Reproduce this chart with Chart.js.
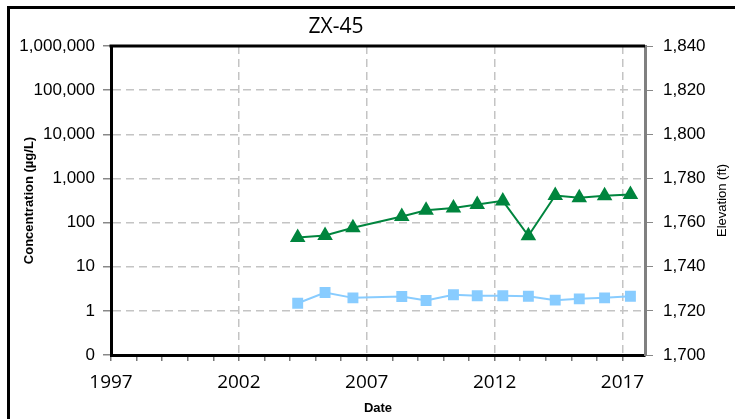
<!DOCTYPE html>
<html>
<head>
<meta charset="utf-8">
<script src="https://cdn.jsdelivr.net/npm/chart.js@4"></script>
<style>
  html, body { margin: 0; padding: 0; background: #fff; }
  #wrap { position: relative; width: 735px; height: 419px; overflow: hidden; }
  #frame { position: absolute; left: 7px; top: 6px; width: 800px; height: 500px;
           border-left: 3px solid #000; border-top: 3px solid #000; pointer-events: none; }
</style>
</head>
<body>
<div id="wrap">
  <canvas id="chart" width="735" height="419"></canvas>
  <div id="frame"></div>
</div>
<script>
// sample dates as decimal years
const sampleYears = [2004.30, 2005.37, 2006.46, 2008.37, 2009.32, 2010.39, 2011.32,
                     2012.32, 2013.32, 2014.37, 2015.31, 2016.30, 2017.31];
// concentration (ug/L)
const greenValues = [46, 51, 76, 137, 191, 215, 256, 310, 50, 411, 364, 403, 433];
const blueValues = [1.49, 2.61, 1.97, 2.12, 1.72, 2.31, 2.19, 2.19, 2.15, 1.75, 1.87, 1.97, 2.15];

const xTickYears = [];
for (let y = 1997; y <= 2017; y++) xTickYears.push(y);
const xLabelYears = [1997, 2002, 2007, 2012, 2017];
const yTickValues = [0.1, 1, 10, 100, 1000, 10000, 100000, 1000000];
const elevationTicks = [1700, 1720, 1740, 1760, 1780, 1800, 1820, 1840];

const chartTitle = 'ZX-45';
const leftTitle = 'Concentration (µg/L)';
const rightTitle = 'Elevation (ft)';
const xTitle = 'Date';

Chart.defaults.font.family = "'Liberation Sans', Arial, sans-serif";
Chart.defaults.color = '#000';

const gridGray = '#c4c4c4';

const extras = {
  id: 'extras',
  beforeDatasetsDraw(chart) {
    const { ctx, chartArea } = chart;
    ctx.save();
    ctx.strokeStyle = '#000';
    ctx.lineWidth = 3;
    ctx.beginPath();
    ctx.moveTo(chartArea.left - 1.5, chartArea.top);
    ctx.lineTo(chartArea.right, chartArea.top);
    ctx.stroke();
    ctx.restore();
  },
  afterDraw(chart) {
    const { ctx, chartArea } = chart;
    ctx.save();
    ctx.fillStyle = '#000';
    ctx.textAlign = 'center';
    ctx.textBaseline = 'middle';
    ctx.font = "21px 'Open Sans', sans-serif";
    ctx.fillText(chartTitle, 336, 27);
    ctx.font = "13px 'Liberation Sans', Arial, sans-serif";
    ctx.translate(chart.scales.y2.right - 13, (chartArea.top + chartArea.bottom) / 2);
    ctx.rotate(-Math.PI / 2);
    ctx.fillText(rightTitle, 0, 0);
    ctx.restore();
  }
};

new Chart(document.getElementById('chart'), {
  type: 'line',
  data: {
    datasets: [
      {
        label: 'Series 1',
        data: sampleYears.map((x, i) => ({ x, y: greenValues[i] })),
        borderColor: '#00853e',
        backgroundColor: '#00853e',
        borderWidth: 2,
        pointStyle: 'triangle',
        pointRadius: 7,
        pointHoverRadius: 7,
        yAxisID: 'y'
      },
      {
        label: 'Series 2',
        data: sampleYears.map((x, i) => ({ x, y: blueValues[i] })),
        borderColor: '#88ccff',
        backgroundColor: '#88ccff',
        borderWidth: 2,
        pointStyle: 'rect',
        pointRadius: 6.3,
        pointHoverRadius: 6.3,
        yAxisID: 'y'
      }
    ]
  },
  options: {
    responsive: false,
    animation: false,
    layout: { padding: { top: 46, left: 0, right: 0, bottom: 0 } },
    plugins: {
      legend: { display: false },
      tooltip: { enabled: false }
    },
    scales: {
      x: {
        type: 'linear',
        min: 1997,
        max: 2017.88,
        afterBuildTicks: scale => { scale.ticks = xTickYears.map(v => ({ value: v })); },
        afterFit: scale => { scale.height = 64; },
        ticks: {
          autoSkip: false,
          maxRotation: 0,
          padding: 10,
          font: { family: "'Open Sans', sans-serif", size: 19 },
          callback: v => xLabelYears.includes(v) ? String(v) : ''
        },
        grid: {
          color: c => (c.tick && xLabelYears.includes(c.tick.value)) ? gridGray : 'rgba(0,0,0,0)',
          tickColor: '#777',
          lineWidth: 1.5,
          tickLength: 6
        },
        border: { color: '#000', width: 3, dash: [8, 5] },
        title: {
          display: true,
          text: xTitle,
          font: { size: 13, weight: 'bold' },
          padding: { top: 0, bottom: 3 }
        }
      },
      y: {
        type: 'logarithmic',
        position: 'left',
        min: 0.1,
        max: 1000000,
        afterBuildTicks: scale => { scale.ticks = yTickValues.map(v => ({ value: v })); },
        afterFit: scale => { scale.width = 111; },
        ticks: {
          padding: 8,
          font: { size: 17 },
          callback: v => v === 0.1 ? '0' : v.toLocaleString('en-US')
        },
        grid: {
          color: gridGray,
          tickColor: '#888',
          lineWidth: 1.5,
          tickLength: 8
        },
        border: { color: '#000', width: 3, dash: [8, 5] },
        title: {
          display: true,
          text: leftTitle,
          font: { size: 13, weight: 'bold' },
          padding: { top: 22, bottom: 0 }
        }
      },
      y2: {
        type: 'linear',
        position: 'right',
        min: 1700,
        max: 1840,
        afterBuildTicks: scale => { scale.ticks = elevationTicks.map(v => ({ value: v })); },
        afterFit: scale => { scale.width = 90; },
        ticks: {
          padding: 10,
          font: { size: 17 },
          callback: v => v.toLocaleString('en-US')
        },
        grid: {
          drawOnChartArea: false,
          tickColor: '#888',
          tickLength: 8
        },
        border: { color: '#808080', width: 3 }
      }
    }
  },
  plugins: [extras]
});
</script>
</body>
</html>
